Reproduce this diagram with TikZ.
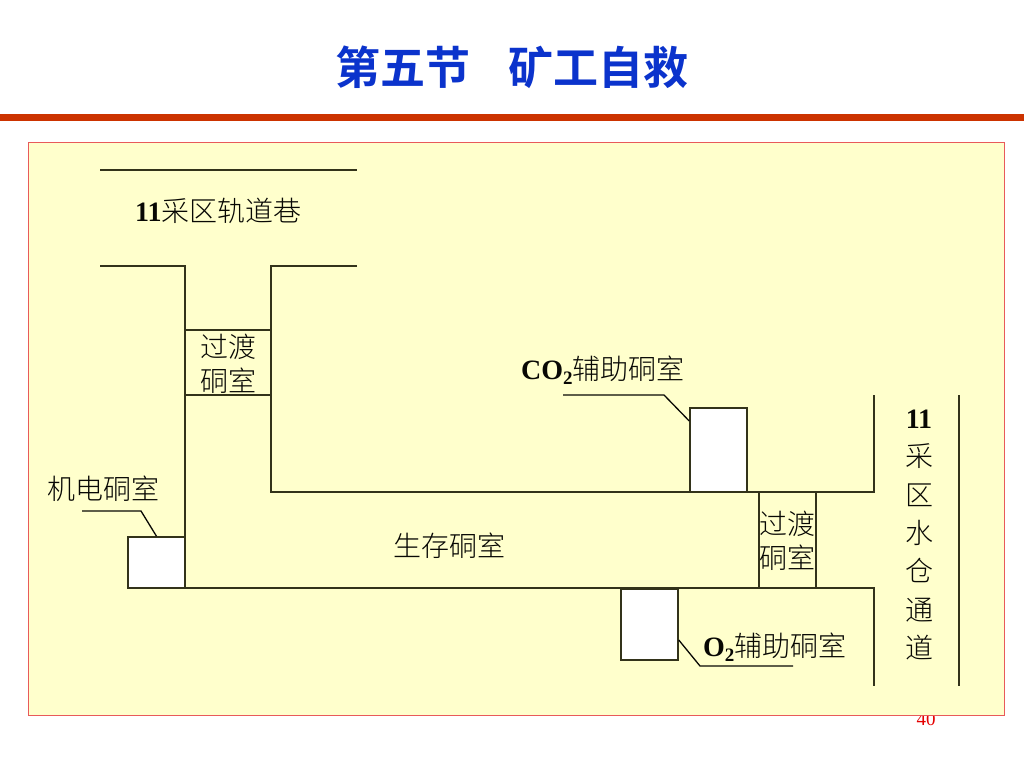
\documentclass[tikz,border=0pt]{standalone}
\usepackage{fontspec}
\setmainfont{Liberation Serif}
\newfontfamily\cjk{Noto Sans CJK SC Light}
\newfontfamily\cjkb{Noto Sans CJK SC Bold}
\definecolor{wall}{HTML}{33331A}
\definecolor{panel}{HTML}{FFFFCC}
\definecolor{frameline}{HTML}{E85A5A}
\definecolor{barcol}{HTML}{CC3300}
\definecolor{titleblue}{HTML}{0B33CC}
\newcommand{\ltn}[1]{{\rmfamily\bfseries #1}}
\newcommand{\subtwo}{\raisebox{-4.5pt}{\fontsize{19}{19}\selectfont\rmfamily\bfseries 2}}
\tikzset{
  wallline/.style={draw=wall,line width=1.5pt,line cap=butt,line join=miter},
  leader/.style={draw=black!85!wall,line width=1.3pt},
  chamber/.style={draw=wall,fill=white,line width=1.5pt,inner sep=0pt,minimum width=#1},
  lab/.style={inner sep=0pt,text=black!85!wall,font=\fontsize{28}{34}\selectfont\cjk,align=center}
}
\begin{document}
\begin{tikzpicture}[x=1pt,y=-1pt]
\useasboundingbox (0,0) rectangle (1024,768);
\fill[white] (0,0) rectangle (1024,768);
% title and bar
\node[inner sep=0pt,text=titleblue,font=\fontsize{45}{45}\selectfont\cjkb] (title1) at (403,67) {第五节};
\node[inner sep=0pt,text=titleblue,font=\fontsize{45}{45}\selectfont\cjkb] (title2) at (598,67) {矿工自救};
\fill[barcol] (0,114) rectangle (1024,121);
% page number, partly hidden by the panel frame
\node[inner sep=0pt,text=red!90!black,font=\fontsize{19}{19}\selectfont] (pagenum) at (926,719) {40};
% panel
\path[fill=panel,draw=frameline,line width=1pt] (28,142) rectangle (1004,715);
% walls
\coordinate (a1) at (100,170); \coordinate (a2) at (357,170);
\draw[wallline] (a1) -- (a2);
\draw[wallline] (100,266) -- (185,266) -- (185,588);
\draw[wallline] (357,266) -- (271,266) -- (271,492) -- (874,492) -- (874,395);
\draw[wallline] (128,588) -- (874,588) -- (874,686);
\draw[wallline] (959,395) -- (959,686);
\draw[wallline] (185,330) -- (271,330);
\draw[wallline] (185,395) -- (271,395);
\draw[wallline] (759,492) -- (759,588);
\draw[wallline] (816,492) -- (816,588);
% chambers
\node[chamber=57pt,minimum height=51pt] (jd) at (156.5,562.5) {};
\node[chamber=57pt,minimum height=84pt] (co) at (718.5,450) {};
\node[chamber=57pt,minimum height=71pt] (ox) at (649.5,624.5) {};
% leaders
\coordinate (jd1) at (82,511); \coordinate (jd2) at (141,511);
\coordinate (co1) at (563,395); \coordinate (co2) at (664,395);
\coordinate (ox1) at (793,666); \coordinate (ox2) at (700,666);
\draw[leader] (jd1) -- (jd2) -- (jd.north);
\draw[leader] (co1) -- (co2) -- (co.north west |- 0,421);
\draw[leader] (ox1) -- (ox2) -- (ox.east |- 0,640);
% labels
\node[lab,anchor=west] (l1) at (135,211) {\ltn{11}采区轨道巷};
\node[lab] (l2) at (228,364) {过渡\\硐室};
\node[lab] (l3) at (787,541) {过渡\\硐室};
\node[lab,anchor=west] (l4) at (47,489) {机电硐室};
\node[lab] (l5) at (449,546) {生存硐室};
\node[lab,anchor=west] (l6) at (521,370) {\ltn{CO}\subtwo 辅助硐室};
\node[lab,anchor=west] (l7) at (703,647) {\ltn{O}\subtwo 辅助硐室};
\node[lab,font=\fontsize{28}{38.3}\selectfont\cjk] (l8) at (919,535) {\ltn{11}\\采\\区\\水\\仓\\通\\道};
\end{tikzpicture}
\end{document}
